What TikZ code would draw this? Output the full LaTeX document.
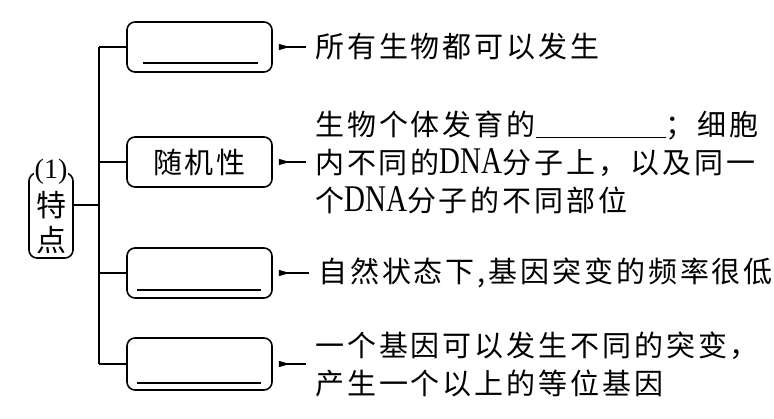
\documentclass[tikz,border=0pt]{standalone}
\usepackage{fontspec}
\usetikzlibrary{arrows.meta}
\newfontfamily\cjk[LetterSpace=10]{Noto Sans CJK SC}
\newfontfamily\latin{Liberation Serif}
\newcommand{\dna}{\scalebox{1}[1.3]{\fontsize{29}{29}\latin\selectfont DNA}}
\newcommand{\blank}[1]{\rule[-3pt]{#1}{1.4pt}}

\begin{document}
\begin{tikzpicture}[x=1pt,y=-1pt,
  box/.style={draw,line width=1.6pt,rounded corners=8pt,minimum width=145pt,minimum height=50pt,inner sep=0pt,font=\fontsize{29}{29}\cjk},
  txt/.style={anchor=west,inner sep=0pt,align=left,font=\fontsize{29}{38}\cjk},
  link/.style={line width=1.6pt},
  tick/.style={line width=1.2pt,{Triangle[reversed,length=11pt,width=6pt]}-}]
\useasboundingbox (0,0) rectangle (774,419);

% left label
\node[draw,line width=1.6pt,rounded corners=8pt,minimum width=44pt,minimum height=85pt] (tedian) at (51,215.5) {};
\node[font=\fontsize{30}{30}\cjk] (te) at (51,205) {特};
\node[font=\fontsize{30}{30}\cjk] (dian) at (51,240) {点};
\node[fill=white,inner xsep=1pt,inner ysep=0pt] (num) at (51,172) {\fontsize{28}{28}\latin\selectfont (1)};

% tree
\coordinate (top) at (99,47);
\coordinate (bot) at (99,364);
\draw[link] (top) -- (bot);
\draw[link] (te -| tedian.east) -- (te -| top);

% boxes
\node[box] (b1) at (199.5,47) {};
\node[box] (b2) at (199.5,162) {随机性};
\node[box] (b3) at (199.5,273) {};
\node[box,minimum height=52pt] (b4) at (199.5,364) {};
\foreach \b in {b1,b2,b3,b4}
  \draw[link] (\b.west -| top) -- (\b.west);
\draw[line width=1.6pt] ([shift={(17,-10)}]b1.south west) -- ([shift={(-15,-10)}]b1.south east);
\draw[line width=1.6pt] ([shift={(11,-9)}]b3.south west) -- ([shift={(-12,-9)}]b3.south east);
\draw[line width=1.6pt] ([shift={(11,-8)}]b4.south west) -- ([shift={(-12,-8)}]b4.south east);

% texts
\node[txt] (t1) at (315,47) {所有生物都可以发生};
\node[txt] (t2) at (315,162) {生物个体发育的\blank{130pt}；细胞\\内不同的\dna 分子上，以及同一\\个\dna 分子的不同部位};
\node[txt] (t3) at (318,273) {自然状态下,基因突变的频率很低};
\node[txt] (t4) at (315,364) {一个基因可以发生不同的突变，\\产生一个以上的等位基因};
\foreach \i in {1,2,3,4}
  \draw[tick] ([xshift=6pt]b\i.east) -- ([xshift=-9pt]t\i.west);
\end{tikzpicture}
\end{document}
